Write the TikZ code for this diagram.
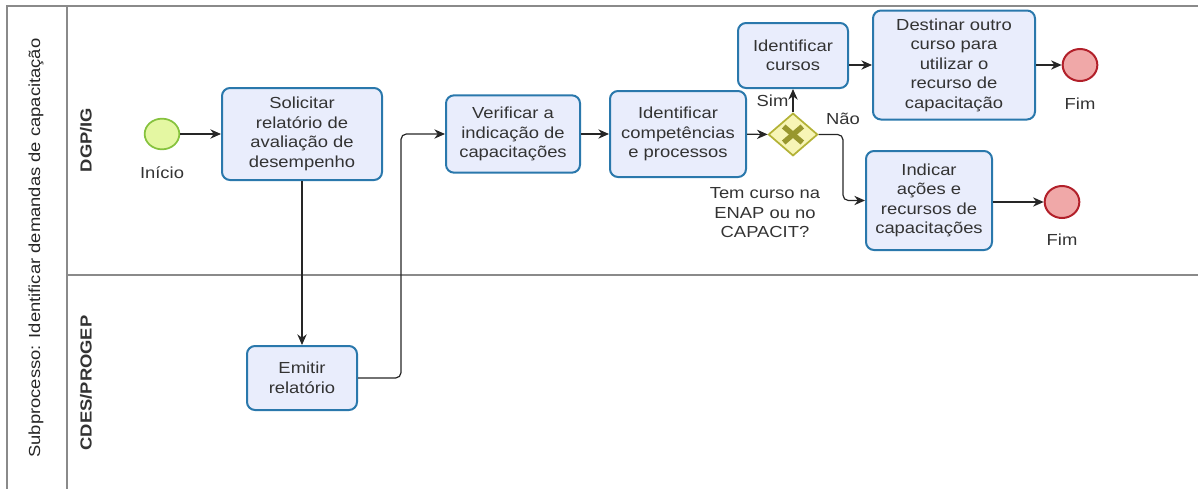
\documentclass[tikz,border=0pt]{standalone}
\usepackage{fontspec}
\setmainfont[FakeStretch=1.15]{Liberation Sans}
\usetikzlibrary{shapes.geometric,arrows.meta}

\definecolor{taskfill}{HTML}{E9EDFC}
\definecolor{taskline}{HTML}{2A78AC}
\definecolor{textgrey}{HTML}{333333}
\definecolor{startfill}{HTML}{E4F7A2}
\definecolor{startline}{HTML}{86C23E}
\definecolor{endfill}{HTML}{F0A8A8}
\definecolor{endline}{HTML}{B2202A}
\definecolor{gwfill}{HTML}{F7F5B6}
\definecolor{gwline}{HTML}{B3B236}
\definecolor{poolline}{HTML}{8A8A8A}

\begin{document}
\begin{tikzpicture}[x=0.75pt, y=-0.75pt,
    every node/.style={font=\fontsize{12}{14.6}\selectfont, text=textgrey},
    task/.style={draw=taskline, fill=taskfill, line width=1.5pt, rounded corners=6pt, align=center, inner sep=2pt},
    startev/.style={ellipse, draw=startline, fill=startfill, line width=1.3pt, minimum width=26pt, minimum height=23pt, inner sep=0pt},
    endev/.style={ellipse, draw=endline, fill=endfill, line width=1.5pt, minimum width=26pt, minimum height=24pt, inner sep=0pt},
    gateway/.style={diamond, draw=gwline, fill=gwfill, line width=1.3pt, minimum width=37pt, minimum height=32pt, inner sep=0pt},
    flow/.style={-{Stealth[length=8pt, width=7pt]}, line width=0.9pt, black!85, rounded corners=4pt},
    lane/.style={draw=poolline, line width=1.2pt},
    lanelabel/.style={rotate=90, font=\fontsize{12}{14}\selectfont\bfseries}]

    \useasboundingbox (0,0) rectangle (1198,489);

    % Draw pool and lanes
    \draw[lane] (1198,6) -- (7,6) -- (7,489);
    \draw[lane] (67,6) -- (67,489);
    \draw[lane] (67,275) -- (1198,275);
    \node[rotate=90, text=black!85] (pool) at (36,248) {Subprocesso: Identificar demandas de capacitação};
    \node[lanelabel] (laneA) at (86,140) {DGP/IG};
    \node[lanelabel] (laneB) at (86,383) {CDES/PROGEP};

    % Draw events
    \node[startev] (inicio) at (162,134) {};
    \node (inicioL) at (162,173) {Início};
    \node[endev] (fimA) at (1080,65) {};
    \node (fimAL) at (1080,104) {Fim};
    \node[endev] (fimB) at (1062,202) {};
    \node (fimBL) at (1062,240) {Fim};

    % Draw tasks
    \node[task, minimum width=120pt, minimum height=69pt] (solicitar) at (302,134) {Solicitar\\relatório de\\avaliação de\\desempenho};
    \node[task, minimum width=82.5pt, minimum height=48pt] (emitir) at (302,378) {Emitir\\relatório};
    \node[task, minimum width=100.5pt, minimum height=58pt] (verificar) at (513,134) {Verificar a\\indicação de\\capacitações};
    \node[task, minimum width=102pt, minimum height=64.5pt] (competencias) at (678,134) {Identificar\\competências\\e processos};
    \node[task, minimum width=82.5pt, minimum height=48.75pt] (cursos) at (793,55.5) {Identificar\\cursos};
    \node[task, minimum width=121.5pt, minimum height=81.75pt] (destinar) at (954,65) {Destinar outro\\curso para\\utilizar o\\recurso de\\capacitação};
    \node[task, minimum width=94.5pt, minimum height=74.25pt] (indicar) at (929,200.5) {Indicar\\ações e\\recursos de\\capacitações};

    % Draw gateway
    \node[gateway] (gw) at (793,134.5) {};
    \draw[gwline!85!black, line width=4pt] ([shift={(-7pt,-6pt)}]gw.center) -- ([shift={(7pt,6pt)}]gw.center);
    \draw[gwline!85!black, line width=4pt] ([shift={(-7pt,6pt)}]gw.center) -- ([shift={(7pt,-6pt)}]gw.center);
    \node[align=center] (pergunta) at (765,213) {Tem curso na\\ENAP ou no\\CAPACIT?};

    % Draw connectors
    \coordinate (bendA) at (401,0);
    \coordinate (bendB) at (843,0);
    \draw[flow] (inicio) -- (solicitar);
    \draw[flow] (solicitar) -- (emitir);
    \draw[flow] (emitir.east) -- (bendA |- emitir.east) -- (bendA |- verificar.west) -- (verificar.west);
    \draw[flow] (verificar) -- (competencias);
    \draw[flow] (competencias) -- (gw);
    \draw[flow] (gw.north) -- (gw.north |- cursos.south) node[pos=0.5, left, inner sep=3pt] (sim) {Sim};
    \draw[flow] (gw.east) -- (bendB |- gw.east) -- (bendB |- indicar.west) -- (indicar.west);
    \node (nao) at (843,119) {Não};
    \draw[flow] (cursos.east |- destinar.center) -- (destinar.west);
    \draw[flow] (destinar.east) -- (fimA);
    \draw[flow] (indicar.east |- fimB) -- (fimB);
\end{tikzpicture}
\end{document}
